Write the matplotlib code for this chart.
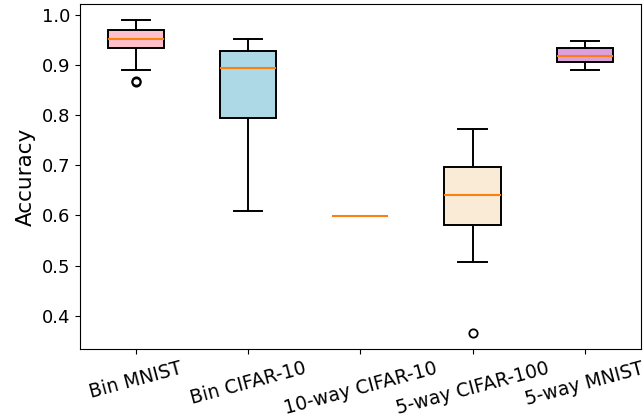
import matplotlib.pyplot as plt

# Box statistics
labels = ["Bin MNIST", "Bin CIFAR-10", "10-way CIFAR-10", "5-way CIFAR-100", "5-way MNIST"]
medians = [0.951, 0.894, 0.598, 0.640, 0.918]
q1 = [0.933, 0.795, 0.598, 0.581, 0.905]
q3 = [0.970, 0.928, 0.598, 0.697, 0.933]
whislo = [0.890, 0.608, 0.598, 0.507, 0.890]
whishi = [0.990, 0.951, 0.598, 0.772, 0.947]
fliers = [[0.866, 0.869], [], [], [0.365], []]
colors = ["pink", "lightblue", "lightgreen", "antiquewhite", "plum"]

stats = []
for i in range(len(labels)):
    stats.append(dict(label=labels[i], med=medians[i], q1=q1[i], q3=q3[i],
                      whislo=whislo[i], whishi=whishi[i], fliers=fliers[i]))

fig, ax = plt.subplots(figsize=(6.44, 4.19), dpi=100)
lw = 1.4
bp = ax.bxp(stats, patch_artist=True,
            boxprops=dict(linewidth=lw),
            whiskerprops=dict(linewidth=lw),
            capprops=dict(linewidth=lw),
            medianprops=dict(linewidth=lw + 0.1),
            flierprops=dict(markeredgewidth=1.3))
for patch, c in zip(bp["boxes"], colors):
    patch.set_facecolor(c)

ax.set_ylabel("Accuracy", fontsize=15.5)
ax.tick_params(axis="y", labelsize=13)
ax.tick_params(axis="x", labelsize=13.5)
plt.setp(ax.get_xticklabels(), rotation=15)

plt.subplots_adjust(left=0.124, right=0.995, top=0.990, bottom=0.167)
plt.savefig("out.png", dpi=100)
